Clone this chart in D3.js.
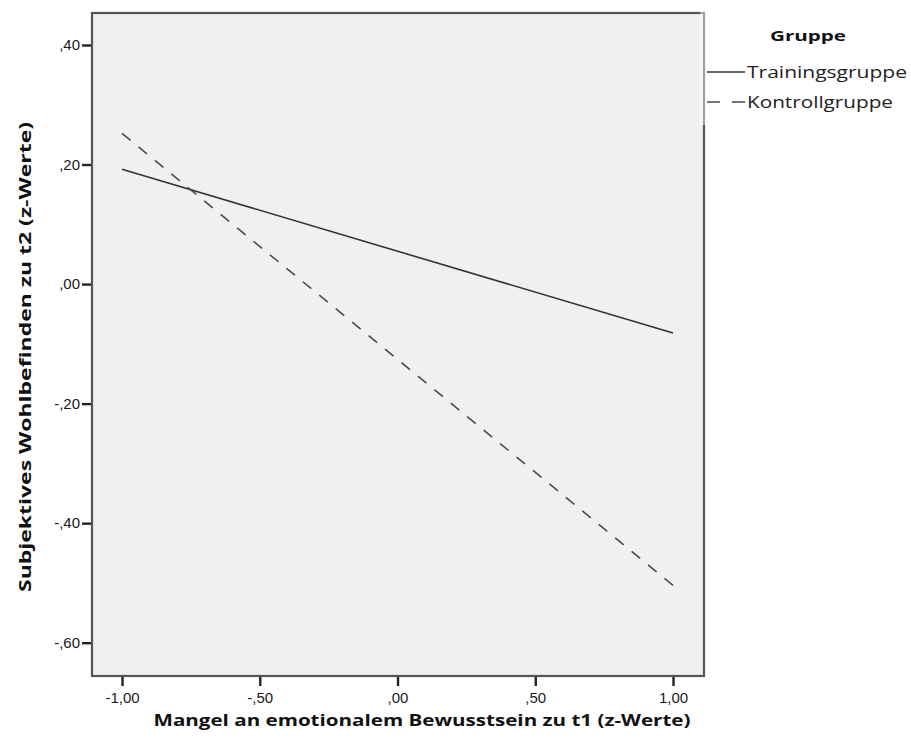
<!DOCTYPE html>
<html><head><meta charset="utf-8">
<script src="https://cdn.jsdelivr.net/npm/d3@7"></script>
<style>body{margin:0;background:#fff;} svg{display:block;}
.ax .tick text{font-size:15px;font-family:"Liberation Sans",Arial,sans-serif;fill:#1a1a1a;}
.ax .tick line{stroke:#222;stroke-width:2.4px;}
</style>
</head><body>
<svg id="c" width="911" height="744"></svg>
<script>
const groups = ["Trainingsgruppe", "Kontrollgruppe"];
const xPoints = [-1, 1];
const trainingValues = [0.192, -0.082];
const kontrollValues = [0.252, -0.504];
const xTicks = [-1, -0.5, 0, 0.5, 1];
const xTickLabels = ["-1,00", "-,50", ",00", ",50", "1,00"];
const yTicks = [0.4, 0.2, 0, -0.2, -0.4, -0.6];
const yTickLabels = [",40", ",20", ",00", "-,20", "-,40", "-,60"];
const xTitle = "Mangel an emotionalem Bewusstsein zu t1 (z-Werte)";
const yTitle = "Subjektives Wohlbefinden zu t2 (z-Werte)";
const legendTitle = "Gruppe";

const svg = d3.select("#c");
const L = 92, R = 704, T = 13, B = 676;
const x = d3.scaleLinear().domain([-1.109, 1.1125]).range([L, R]);
const y = d3.scaleLinear().domain([0.4535, -0.6557]).range([T, B]);

svg.append("rect").attr("x", L).attr("y", T).attr("width", R - L).attr("height", B - T)
  .attr("fill", "#f0f0f0");

const series = [
  {name: groups[0], values: trainingValues, dashed: false, color: "#333"},
  {name: groups[1], values: kontrollValues, dashed: true, color: "#4a4a4a"}
];
const line = d3.line().x(d => x(d[0])).y(d => y(d[1]));
series.forEach(s => {
  const p = svg.append("path").datum(xPoints.map((xv, i) => [xv, s.values[i]]))
    .attr("d", line).attr("fill", "none").attr("stroke", s.color)
    .attr("stroke-width", 1.6);
  if (s.dashed) {
    const len = p.node().getTotalLength();
    const dash = 11;
    const n = Math.round((len - dash) / 21);
    const gap = (len - dash) / n - dash;
    p.attr("stroke-dasharray", `${dash},${gap}`);
  }
});

// axes
const fmtX = d => xTickLabels[xTicks.indexOf(d)];
const fmtY = d => yTickLabels[yTicks.indexOf(d)];
const xAxis = svg.append("g").attr("class", "ax").attr("transform", `translate(0,${B})`)
  .call(d3.axisBottom(x).tickValues(xTicks).tickFormat(fmtX).tickSize(10).tickPadding(6).tickSizeOuter(0));
const yAxis = svg.append("g").attr("class", "ax").attr("transform", `translate(${L},0)`)
  .call(d3.axisLeft(y).tickValues(yTicks).tickFormat(fmtY).tickSize(10).tickPadding(2).tickSizeOuter(0));
[xAxis, yAxis].forEach(a => a.select(".domain").remove());

// frame
svg.append("rect").attr("x", L).attr("y", T).attr("width", R - L).attr("height", B - T)
  .attr("fill", "none").attr("stroke", "#555").attr("stroke-width", 2.2);

// legend background (lightens frame)
svg.append("rect").attr("x", 700).attr("y", 0).attr("width", 211).attr("height", 125)
  .attr("fill", "#fff").attr("opacity", 0.45);

// titles
svg.append("text").attr("x", (L + R) / 2 + 24).attr("y", 726).attr("text-anchor", "middle")
  .attr("font-family", "Open Sans, sans-serif").attr("font-weight", "bold").attr("font-size", 16)
  .attr("textLength", 537).attr("lengthAdjust", "spacingAndGlyphs")
  .attr("fill", "#111").text(xTitle);
svg.append("text").attr("transform", `translate(31,357) rotate(-90)`).attr("text-anchor", "middle")
  .attr("font-family", "Open Sans, sans-serif").attr("font-weight", "bold").attr("font-size", 16)
  .attr("textLength", 470).attr("lengthAdjust", "spacingAndGlyphs")
  .attr("fill", "#111").text(yTitle);

// legend
svg.append("text").attr("x", 808).attr("y", 41).attr("text-anchor", "middle")
  .attr("font-family", "Open Sans, sans-serif").attr("font-weight", "bold").attr("font-size", 15)
  .attr("textLength", 76).attr("lengthAdjust", "spacingAndGlyphs")
  .attr("fill", "#111").text(legendTitle);
const legY = [72, 102];
series.forEach((s, i) => {
  svg.append("line").attr("x1", 707).attr("x2", 745).attr("y1", legY[i]).attr("y2", legY[i])
    .attr("stroke", s.color).attr("stroke-width", 1.6)
    .attr("stroke-dasharray", s.dashed ? "13,12" : null);
  svg.append("text").attr("x", 747).attr("y", legY[i] + 6)
    .attr("font-family", "Open Sans, sans-serif").attr("font-size", 16)
    .attr("textLength", i === 0 ? 160 : 146).attr("lengthAdjust", "spacingAndGlyphs")
    .attr("fill", "#222").text(s.name);
});
</script>
</body></html>
